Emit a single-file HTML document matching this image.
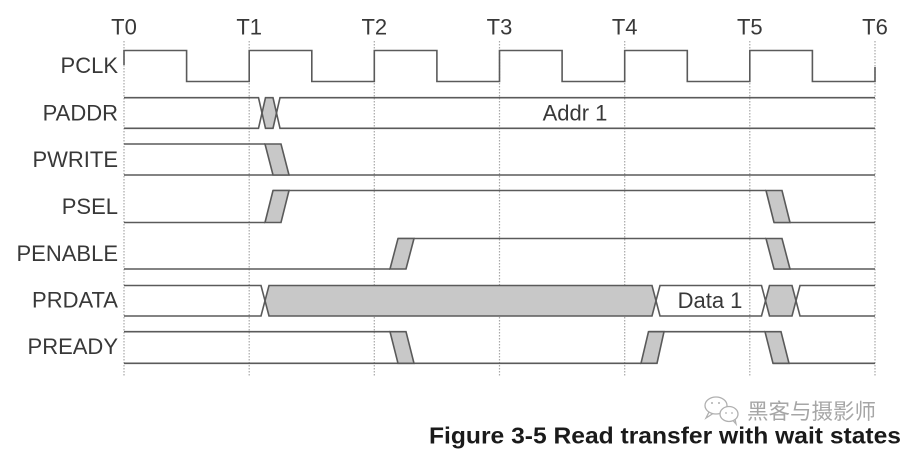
<!DOCTYPE html>
<html>
<head>
<meta charset="utf-8">
<style>
  html,body{margin:0;padding:0;background:#fff;}
  svg{display:block;}
  .lbl{font-family:"Liberation Sans",Arial,sans-serif;font-size:22px;fill:#383838;}
  .t{font-family:"Liberation Sans",Arial,sans-serif;font-size:22px;fill:#383838;}
</style>
</head>
<body>
<svg width="908" height="452" viewBox="0 0 908 452" xmlns="http://www.w3.org/2000/svg">
  <rect width="908" height="452" fill="#fff"/>

  <!-- dotted grid lines -->
  <g stroke="#a8a8a8" stroke-width="1.2" stroke-dasharray="1.5,1.5" fill="none">
    <line x1="124" y1="41" x2="124" y2="377"/>
    <line x1="249.2" y1="41" x2="249.2" y2="377"/>
    <line x1="374.3" y1="41" x2="374.3" y2="377"/>
    <line x1="499.5" y1="41" x2="499.5" y2="377"/>
    <line x1="624.7" y1="41" x2="624.7" y2="377"/>
    <line x1="749.8" y1="41" x2="749.8" y2="377"/>
    <line x1="875" y1="41" x2="875" y2="377"/>
  </g>

  <!-- T labels -->
  <g class="t" text-anchor="middle">
    <text x="124" y="34.5">T0</text>
    <text x="249.2" y="34.5">T1</text>
    <text x="374.3" y="34.5">T2</text>
    <text x="499.5" y="34.5">T3</text>
    <text x="624.7" y="34.5">T4</text>
    <text x="749.8" y="34.5">T5</text>
    <text x="875" y="34.5">T6</text>
  </g>

  <!-- signal labels -->
  <g class="lbl" text-anchor="end">
    <text x="118" y="73">PCLK</text>
    <text x="118" y="120.5">PADDR</text>
    <text x="118" y="167">PWRITE</text>
    <text x="118" y="214">PSEL</text>
    <text x="118" y="261">PENABLE</text>
    <text x="118" y="307.5">PRDATA</text>
    <text x="118" y="354">PREADY</text>
  </g>

  <!-- gray fills -->
  <g fill="#c8c8c8" stroke="none">
    <polygon points="262,113 265.5,97.7 273,97.7 276.5,113 273,128.3 265.5,128.3"/>
    <polygon points="265,300.75 269,285.5 652,285.5 656,300.75 652,316 269,316"/>
    <polygon points="765.5,300.75 769.5,285.5 792,285.5 796,300.75 792,316 769.5,316"/>
  </g>

  <g fill="none" stroke="#5a5a5a" stroke-width="1.6" stroke-linejoin="miter">
    <!-- PCLK -->
    <path d="M124,65 V50.5 H186.6 V81.5 H249.2 V50.5 H311.8 V81.5 H374.3 V50.5 H436.9 V81.5 H499.5 V50.5 H562.1 V81.5 H624.7 V50.5 H687.3 V81.5 H749.8 V50.5 H812.4 V81.5 H875 V67"/>

    <!-- PADDR -->
    <path d="M124,97.7 H258.5 L265.5,128.3 H273 L280,97.7 H875"/>
    <path d="M124,128.3 H258.5 L265.5,97.7 H273 L280,128.3 H875"/>

    <!-- PWRITE -->
    <path d="M124,144 H265"/>
    <path d="M124,175 H875"/>

    <!-- PSEL -->
    <path d="M124,222.5 H265"/>
    <path d="M273,190.5 H766"/>
    <path d="M774,222.5 H875"/>

    <!-- PENABLE -->
    <path d="M124,269 H390"/>
    <path d="M398,238.5 H766"/>
    <path d="M774,269 H875"/>

    <!-- PRDATA -->
    <path d="M124,285.5 H261 L269,316 H652 L660,285.5 H761.5 L769.5,316 H792 L800,285.5 H875"/>
    <path d="M124,316 H261 L269,285.5 H652 L660,316 H761.5 L769.5,285.5 H792 L800,316 H875"/>

    <!-- PREADY -->
    <path d="M124,331.7 H390"/>
    <path d="M124,363.3 H641"/>
    <path d="M649,331.7 H765"/>
    <path d="M773,363.3 H875"/>
  </g>

  <!-- transition parallelograms -->
  <g fill="#c8c8c8" stroke="#5a5a5a" stroke-width="1.6" stroke-linejoin="miter">
    <polygon points="265,144 281,144 289,175 273,175"/>
    <polygon points="265,222.5 281,222.5 289,190.5 273,190.5"/>
    <polygon points="766,190.5 782,190.5 790,222.5 774,222.5"/>
    <polygon points="390,269 406,269 414,238.5 398,238.5"/>
    <polygon points="766,238.5 782,238.5 790,269 774,269"/>
    <polygon points="390,331.7 406,331.7 414,363.3 398,363.3"/>
    <polygon points="641,363.3 657,363.3 664,331.7 648.5,331.7"/>
    <polygon points="765,331.7 781,331.7 789,363.3 773,363.3"/>
  </g>

  <!-- bus labels -->
  <text class="lbl" x="575" y="120.5" text-anchor="middle">Addr 1</text>
  <text class="lbl" x="710" y="308" text-anchor="middle">Data 1</text>

  <!-- watermark: wechat icon -->
  <g fill="none" stroke="#b0b0b0" stroke-width="1.3">
    <ellipse cx="716" cy="405.5" rx="11" ry="8.5"/>
    <path d="M709,412 L706,418 L713,413.5"/>
    <ellipse cx="729" cy="414" rx="9" ry="7.5" fill="#fff"/>
    <path d="M733,420.5 L736,424 L735,419"/>
  </g>
  <g fill="#b0b0b0">
    <circle cx="712" cy="403" r="1"/>
    <circle cx="719" cy="403" r="1"/>
    <circle cx="726" cy="413" r="0.9"/>
    <circle cx="732" cy="413" r="0.9"/>
  </g>
  <text x="747" y="419" font-family="'Liberation Sans','Noto Sans CJK SC','WenQuanYi Zen Hei',sans-serif" font-size="21.5" fill="#a6a6a6">黑客与摄影师</text>

  <!-- caption -->
  <text x="429" y="443.5" font-family="'Liberation Sans',Arial,sans-serif" font-size="23.5" font-weight="bold" fill="#1a1a1a" textLength="472" lengthAdjust="spacingAndGlyphs">Figure 3-5 Read transfer with wait states</text>
</svg>
</body>
</html>
